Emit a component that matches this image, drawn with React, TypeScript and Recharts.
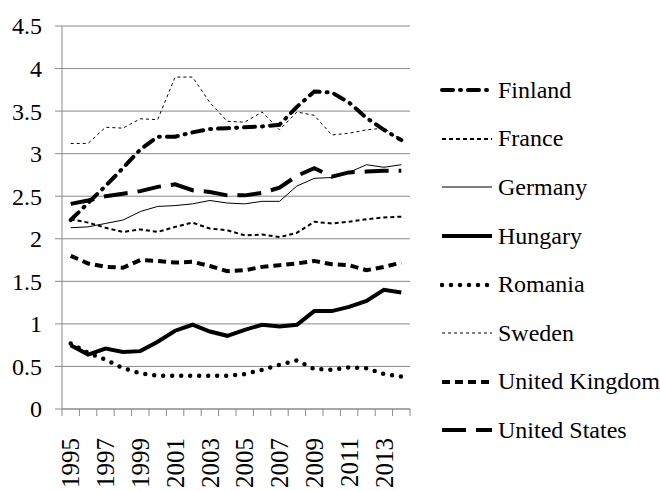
import { LineChart, Line, XAxis, YAxis, CartesianGrid } from "recharts";

// years on the category axis
const years = [
  1995, 1996, 1997, 1998, 1999, 2000, 2001, 2002, 2003, 2004,
  2005, 2006, 2007, 2008, 2009, 2010, 2011, 2012, 2013, 2014,
];
const labelYears = [1995, 1997, 1999, 2001, 2003, 2005, 2007, 2009, 2011, 2013];
const yTicks = [0, 0.5, 1, 1.5, 2, 2.5, 3, 3.5, 4, 4.5];

// values
const finland = [2.22, 2.42, 2.62, 2.83, 3.05, 3.2, 3.2, 3.25, 3.29, 3.3, 3.31, 3.32, 3.34, 3.55, 3.73, 3.72, 3.6, 3.42, 3.28, 3.16];
const france = [2.23, 2.19, 2.13, 2.08, 2.11, 2.08, 2.14, 2.19, 2.12, 2.1, 2.04, 2.05, 2.02, 2.07, 2.2, 2.18, 2.2, 2.23, 2.25, 2.26];
const germany = [2.13, 2.14, 2.18, 2.22, 2.32, 2.38, 2.39, 2.41, 2.45, 2.42, 2.41, 2.44, 2.44, 2.62, 2.71, 2.72, 2.78, 2.87, 2.84, 2.87];
const hungary = [0.75, 0.64, 0.71, 0.67, 0.68, 0.79, 0.92, 0.99, 0.91, 0.86, 0.93, 0.99, 0.97, 0.99, 1.15, 1.15, 1.2, 1.27, 1.4, 1.37];
const romania = [0.77, 0.66, 0.58, 0.48, 0.42, 0.39, 0.39, 0.39, 0.39, 0.39, 0.41, 0.46, 0.52, 0.57, 0.47, 0.46, 0.49, 0.48, 0.41, 0.38];
const sweden = [3.12, 3.12, 3.31, 3.3, 3.41, 3.4, 3.9, 3.9, 3.6, 3.38, 3.37, 3.49, 3.28, 3.49, 3.45, 3.22, 3.24, 3.28, 3.3, 3.16];
const uk = [1.8, 1.71, 1.67, 1.66, 1.75, 1.74, 1.72, 1.73, 1.68, 1.62, 1.63, 1.67, 1.69, 1.71, 1.74, 1.7, 1.69, 1.63, 1.67, 1.72];
const us = [2.41, 2.45, 2.5, 2.53, 2.56, 2.61, 2.64, 2.57, 2.55, 2.51, 2.51, 2.54, 2.6, 2.74, 2.83, 2.73, 2.78, 2.79, 2.8, 2.8];

const data = years.map((year, i) => ({
  year,
  Finland: finland[i],
  France: france[i],
  Germany: germany[i],
  Hungary: hungary[i],
  Romania: romania[i],
  Sweden: sweden[i],
  "United Kingdom": uk[i],
  "United States": us[i],
}));

// line styles
const series = [
  { key: "Finland", width: 4, dash: "11 7 1 7", cap: "round" },
  { key: "France", width: 2, dash: "4 3", cap: "butt" },
  { key: "Germany", width: 1, dash: undefined, cap: "butt" },
  { key: "Hungary", width: 4, dash: undefined, cap: "butt" },
  { key: "Romania", width: 4.5, dash: "0 9", cap: "round" },
  { key: "Sweden", width: 1, dash: "3 3", cap: "butt" },
  { key: "United Kingdom", width: 4, dash: "8 5", cap: "butt" },
  { key: "United States", width: 4, dash: "24 10", cap: "butt" },
];

const W = 660;
const H = 491;
const M = { top: 26, right: 250, left: 0, bottom: 0 };
const Y_W = 62;
const PLOT_W = W - M.left - M.right - Y_W;
const HALF_BAND = PLOT_W / years.length / 2;
const FONT =
  '"Liberation Serif", "Times New Roman", Tinos, "Nimbus Roman", "Nimbus Roman No9 L", FreeSerif, "Noto Serif", "DejaVu Serif", Times, serif';
const GRID = "#8a8a8a";

// band edges, so tick marks sit between years like in the original
const edges = years.map((y) => y - 0.5).concat(years[years.length - 1] + 0.5);

const YearTick = (props: any) => {
  const { x, y, payload } = props;
  const year = payload.value + 0.5;
  if (!labelYears.includes(year)) return null;
  const cx = x + HALF_BAND;
  return (
    <text
      x={cx}
      y={y}
      dy="0.35em"
      transform={`rotate(-90, ${cx}, ${y})`}
      textAnchor="end"
      fontSize={25}
      style={{ fontFamily: FONT }}
      fill="#000"
    >
      {year}
    </text>
  );
};

const YTick = (props: any) => {
  const { x, y, payload } = props;
  return (
    <text x={x} y={y} dy="0.35em" textAnchor="end" fontSize={24} style={{ fontFamily: FONT }} fill="#000">
      {payload.value}
    </text>
  );
};

export default function App() {
  return (
    <div style={{ position: "absolute", left: 0, top: 0, width: W, height: H, background: "#fff", fontFamily: FONT }}>
      <LineChart width={W} height={H} data={data} margin={M}>
        <CartesianGrid vertical={false} stroke={GRID} strokeWidth={1} />
        <XAxis
          dataKey="year"
          type="number"
          domain={[edges[0], edges[edges.length - 1]]}
          ticks={edges}
          interval={0}
          height={82}
          tickSize={7}
          tickMargin={22}
          stroke={GRID}
          tickLine={{ stroke: GRID }}
          axisLine={{ stroke: GRID }}
          tick={<YearTick />}
          allowDataOverflow
        />
        <YAxis
          domain={[0, 4.5]}
          ticks={yTicks}
          interval={0}
          width={Y_W}
          tickSize={7}
          tickMargin={13}
          stroke={GRID}
          tickLine={{ stroke: GRID }}
          axisLine={{ stroke: GRID }}
          tick={<YTick />}
        />
        {series.map((s) => (
          <Line
            key={s.key}
            dataKey={s.key}
            type="linear"
            stroke="#000"
            strokeWidth={s.width}
            strokeDasharray={s.dash}
            strokeLinecap={s.cap as any}
            dot={false}
            activeDot={false}
            isAnimationActive={false}
          />
        ))}
      </LineChart>
      <div style={{ position: "absolute", left: 440, top: 66 }}>
        {series.map((s) => (
          <div key={s.key} style={{ height: 48.6, display: "flex", alignItems: "center" }}>
            <svg width={54} height={10}>
              <line
                x1={2}
                y1={5}
                x2={52}
                y2={5}
                stroke="#000"
                strokeWidth={s.width}
                strokeDasharray={s.dash}
                strokeLinecap={s.cap as any}
              />
            </svg>
            <span style={{ marginLeft: 4, fontSize: 24, fontFamily: FONT, color: "#000", whiteSpace: "nowrap" }}>
              {s.key}
            </span>
          </div>
        ))}
      </div>
    </div>
  );
}
